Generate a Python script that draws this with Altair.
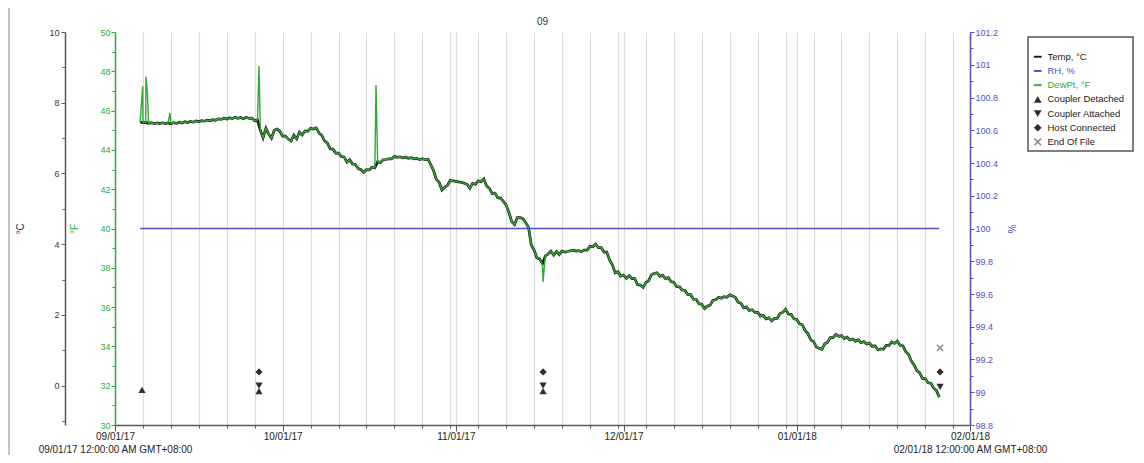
import altair as alt
import pandas as pd

FONT = "Liberation Sans"
chart_title = "09"

# Logged dew point (deg F), one reading every 12 hours starting at sample_start
sample_start = "2017-09-05 12:00"
sample_step = "12h"
dewpt_f = [
    45.42, 45.39, 45.40, 45.35, 45.39, 45.34, 45.37, 45.34, 45.38, 45.34,
    45.37, 45.33, 45.39, 45.35, 45.41, 45.37, 45.43, 45.39, 45.45, 45.41,
    45.47, 45.44, 45.49, 45.46, 45.51, 45.48, 45.54, 45.51, 45.58, 45.55,
    45.61, 45.57, 45.64, 45.59, 45.66, 45.61, 45.65, 45.59, 45.66, 45.60,
    45.62, 45.48, 45.52, 45.00, 44.62, 45.10, 44.80, 44.60, 45.00, 45.06,
    44.95, 44.70, 44.70, 44.55, 44.45, 44.75, 44.56, 44.90, 44.76, 44.96,
    44.94, 45.10, 45.06, 45.12, 44.86, 44.74, 44.46, 44.34, 44.06, 44.04,
    43.84, 43.84, 43.66, 43.64, 43.38, 43.50, 43.28, 43.26, 43.06, 42.99,
    42.86, 42.99, 42.98, 43.12, 43.08, 43.40, 43.36, 43.50, 43.51, 43.55,
    43.54, 43.67, 43.62, 43.65, 43.60, 43.63, 43.57, 43.60, 43.55, 43.57,
    43.51, 43.55, 43.50, 43.53, 43.25, 42.95, 42.50, 42.35, 41.96, 42.10,
    42.20, 42.45, 42.42, 42.40, 42.37, 42.35, 42.30, 42.25, 42.05, 42.30,
    42.25, 42.43, 42.38, 42.52, 42.16, 42.04, 41.78, 41.80, 41.57, 41.55,
    41.38, 41.20, 40.80, 40.35, 40.20, 40.55, 40.55, 40.50, 40.30, 40.05,
    39.15, 38.90, 38.50, 38.45, 38.20, 38.60, 38.70, 38.85, 38.65, 38.83,
    38.67, 38.85, 38.80, 38.83, 38.87, 38.90, 38.85, 38.87, 38.83, 38.90,
    38.90, 39.10, 39.07, 39.20, 39.03, 39.03, 38.80, 38.80, 38.40, 38.15,
    37.75, 37.80, 37.57, 37.63, 37.47, 37.60, 37.45, 37.45, 37.15, 37.12,
    37.00, 37.25, 37.35, 37.65, 37.71, 37.75, 37.57, 37.63, 37.45, 37.50,
    37.30, 37.27, 37.05, 37.03, 36.87, 36.85, 36.63, 36.63, 36.40, 36.40,
    36.17, 36.15, 35.93, 36.05, 36.10, 36.35, 36.37, 36.50, 36.45, 36.53,
    36.50, 36.63, 36.57, 36.50, 36.25, 36.20, 35.97, 36.00, 35.83, 35.87,
    35.73, 35.73, 35.55, 35.57, 35.40, 35.45, 35.30, 35.43, 35.43, 35.67,
    35.73, 35.89, 35.65, 35.63, 35.40, 35.37, 35.15, 35.10, 34.80, 34.65,
    34.33, 34.25, 33.97, 33.91, 33.85, 34.13, 34.20, 34.45, 34.45, 34.61,
    34.51, 34.55, 34.40, 34.47, 34.33, 34.38, 34.27, 34.33, 34.19, 34.25,
    34.12, 34.17, 34.00, 34.03, 33.83, 33.87, 33.85, 34.05, 34.05, 34.23,
    34.15, 34.27, 34.05, 34.02, 33.73, 33.60, 33.25, 33.05, 32.77, 32.65,
    32.37, 32.35, 32.15, 32.13, 31.87, 31.75, 31.42,
]

# Short dew point spikes (coupler events etc.)
spike_times = ["2017-09-05 23:00", "2017-09-06 13:00", "2017-09-06 19:00",
               "2017-09-10 20:00", "2017-09-26 18:30", "2017-10-17 17:00",
               "2017-11-16 14:30"]
spike_f = [47.24, 47.73, 46.96, 45.88, 48.27, 47.30, 37.28]

# Relative humidity
rh_times = ["2017-09-05 12:00", "2018-01-26 12:00"]
rh_pct = [100.0, 100.0]

# Logger events (drawn at a level on the deg C axis)
event_times = ["2017-09-05 20:00",
               "2017-09-26 18:30", "2017-09-26 18:30", "2017-09-26 18:30",
               "2017-11-16 14:30", "2017-11-16 14:30", "2017-11-16 14:30",
               "2018-01-26 15:30", "2018-01-26 15:30", "2018-01-26 15:30"]
event_names = ["Coupler Detached",
               "Host Connected", "Coupler Attached", "Coupler Detached",
               "Host Connected", "Coupler Attached", "Coupler Detached",
               "End Of File", "Host Connected", "Coupler Attached"]
event_level_c = [-0.12, 0.39, 0.0, -0.15, 0.39, 0.0, -0.15, 1.07, 0.39, -0.03]

legend_labels = ["Temp, °C", "RH, %", "DewPt, °F", "Coupler Detached",
                 "Coupler Attached", "Host Connected", "End Of File"]

GREEN = "#33a833"
BLUE = "#5050c4"
BLACK = "#1a1a1a"
GREY = "#5a5a5a"
LINE_SYM = "M-1,-0.25L1,-0.25L1,0.25L-1,0.25Z"
X_SYM = ("M-1,-0.72L-0.72,-1L0,-0.28L0.72,-1L1,-0.72L0.28,0L1,0.72L0.72,1"
         "L0,0.28L-0.72,1L-1,0.72L-0.28,0Z")
legend_colors = [BLACK, BLUE, GREEN, "#2e2e2e", "#2e2e2e", "#2e2e2e", "#8a8a8a"]
legend_shapes = [LINE_SYM, LINE_SYM, LINE_SYM, "triangle-up", "triangle-down",
                 "diamond", X_SYM]

# Axis ticks
x_domain = ["2017-09-01", "2018-02-01"]
x_tick_dates = ["2017-09-01", "2017-09-06", "2017-09-11", "2017-09-16", "2017-09-21",
                "2017-09-26", "2017-10-01", "2017-10-06", "2017-10-11", "2017-10-16",
                "2017-10-21", "2017-10-26", "2017-10-31", "2017-11-01", "2017-11-05",
                "2017-11-10", "2017-11-15", "2017-11-20", "2017-11-25", "2017-11-30",
                "2017-12-01", "2017-12-05", "2017-12-10", "2017-12-15", "2017-12-20",
                "2017-12-25", "2017-12-30", "2018-01-01", "2018-01-04", "2018-01-09",
                "2018-01-14", "2018-01-19", "2018-01-24", "2018-01-29", "2018-02-01"]
c_domain = [-10 / 9, 10]
c_ticks = [-1, 0, 1, 2, 3, 4, 5, 6, 7, 8, 9, 10]
f_domain = [30, 50]
f_ticks = [30, 31, 32, 33, 34, 35, 36, 37, 38, 39, 40, 41, 42, 43, 44, 45, 46, 47, 48, 49, 50]
rh_domain = [98.8, 101.2]
rh_ticks = [98.8, 98.9, 99.0, 99.1, 99.2, 99.3, 99.4, 99.5, 99.6, 99.7, 99.8, 99.9, 100.0,
            100.1, 100.2, 100.3, 100.4, 100.5, 100.6, 100.7, 100.8, 100.9, 101.0, 101.1, 101.2]


def dt(s):
    t = pd.Timestamp(s)
    return alt.DateTime(year=t.year, month=t.month, date=t.day,
                        hours=t.hour, minutes=t.minute)


times = pd.date_range(sample_start, periods=len(dewpt_f), freq=sample_step)
temp_df = pd.DataFrame({"time": times, "dewpt_f": dewpt_f})
dew_df = pd.concat([
    temp_df,
    pd.DataFrame({"time": pd.to_datetime(spike_times), "dewpt_f": spike_f}),
]).sort_values("time").reset_index(drop=True)
rh_df = pd.DataFrame({"time": pd.to_datetime(rh_times), "rh": rh_pct})
ev_df = pd.DataFrame({"time": pd.to_datetime(event_times), "event": event_names,
                      "level": event_level_c})
one_row = pd.DataFrame({"k": [0]})

W, H = 855, 393

x_label_expr = (
    "date(datum.value) == 1 ? "
    "(((year(datum.value) == 2017 && month(datum.value) == 8) || "
    "(year(datum.value) == 2018 && month(datum.value) == 1)) ? "
    "[timeFormat(datum.value, '%m/%d/%y'), "
    "timeFormat(datum.value, '%m/%d/%y') + ' 12:00:00 AM GMT+08:00'] : "
    "timeFormat(datum.value, '%m/%d/%y')) : ''"
)
x_axis = alt.Axis(
    values=[dt(s) for s in x_tick_dates], labelExpr=x_label_expr, title=None,
    grid=True, gridColor="#dcdcdc", gridWidth=1.2,
    domainColor=GREY, domainWidth=1.5, tickColor=GREY,
    tickSize={"condition": {"test": "date(datum.value) == 1", "value": 6}, "value": 3},
    labelFont=FONT, labelFontSize=10, labelColor="#222222", labelPadding=0,
    labelLineHeight=13, labelFlush=False, labelOverlap=False,
)
x_enc = alt.X("time:T", scale=alt.Scale(domain=[dt(x_domain[0]), dt(x_domain[1])]),
              axis=x_axis)

c_axis = alt.Axis(
    orient="left", offset=50, values=c_ticks, grid=False,
    labelExpr="datum.value % 2 == 0 ? datum.label : ''",
    tickSize={"condition": {"test": "datum.value % 2 == 0", "value": 4}, "value": 3},
    domainColor=GREY, domainWidth=1.5, tickColor=GREY, labelColor="#333333",
    labelFont=FONT, labelFontSize=9, labelPadding=2,
    title="°C", titleFont=FONT, titleFontSize=10, titleFontWeight="normal",
    titleColor="#333333", titleX=-40, titleY=H / 2,
)
f_axis = alt.Axis(
    orient="left", offset=0, values=f_ticks, grid=False,
    labelExpr="datum.value % 2 == 0 ? datum.label : ''",
    tickSize={"condition": {"test": "datum.value % 2 == 0", "value": 4}, "value": 3},
    domainColor=GREEN, domainWidth=1.5, tickColor=GREEN, labelColor=GREEN,
    labelFont=FONT, labelFontSize=9, labelPadding=1,
    title="°F", titleFont=FONT, titleFontSize=10, titleFontWeight="normal",
    titleColor=GREEN, titleX=-36, titleY=H / 2,
)
rh_axis = alt.Axis(
    orient="right", values=rh_ticks, grid=False,
    labelExpr="round(datum.value * 10) % 2 == 0 ? format(datum.value, '.1~f') : ''",
    tickSize={"condition": {"test": "round(datum.value * 10) % 2 == 0", "value": 4},
              "value": 3},
    domainColor=BLUE, domainWidth=1.5, tickColor=BLUE, labelColor=BLUE,
    labelFont=FONT, labelFontSize=9, labelPadding=1,
    title="%", titleFont=FONT, titleFontSize=10, titleFontWeight="normal",
    titleColor=BLUE, titleX=35, titleY=H / 2,
)

temp_line = alt.Chart(temp_df).transform_calculate(
    temp_c="(datum.dewpt_f - 32) * 5 / 9"
).mark_line(color=BLACK, strokeWidth=2.7).encode(
    x=x_enc,
    y=alt.Y("temp_c:Q", scale=alt.Scale(domain=c_domain, nice=False, zero=False),
            axis=c_axis),
)
dew_line = alt.Chart(dew_df).mark_line(color=GREEN, strokeWidth=1.4).encode(
    x=x_enc,
    y=alt.Y("dewpt_f:Q", scale=alt.Scale(domain=f_domain, nice=False, zero=False),
            axis=f_axis),
)
rh_line = alt.Chart(rh_df).mark_line(color=BLUE, strokeWidth=1.5).encode(
    x=x_enc,
    y=alt.Y("rh:Q", scale=alt.Scale(domain=rh_domain, nice=False, zero=False),
            axis=rh_axis),
)

label_color = alt.ExprRef(expr=(
    f"datum.label == 'RH, %' ? '{BLUE}' : "
    f"datum.label == 'DewPt, °F' ? '{GREEN}' : '#222222'"
))
leg = alt.Legend(
    title=None, orient="none", legendX=918, legendY=20, direction="vertical",
    padding=0, rowPadding=3.2,
    labelFont=FONT, labelFontSize=9.5, labelColor=label_color, labelOffset=5,
    symbolSize=60, symbolOpacity=1, symbolStrokeWidth=0,
)
markers = alt.Chart(ev_df).mark_point(filled=True, opacity=1, size=52).encode(
    x=x_enc,
    y=alt.Y("level:Q", scale=alt.Scale(domain=c_domain, nice=False, zero=False),
            axis=None),
    color=alt.Color("event:N", scale=alt.Scale(domain=legend_labels, range=legend_colors),
                    legend=leg),
    shape=alt.Shape("event:N", scale=alt.Scale(domain=legend_labels, range=legend_shapes),
                    legend=leg),
)

# Decorations: page frame line, legend box, chart title
frame = alt.Chart(one_row).mark_rule(color="#c4c4c4", strokeWidth=2).encode(
    x=alt.value(-106), y=alt.value(-24), y2=alt.value(H + 30))
legend_box = alt.Chart(one_row).mark_rect(
    fill="white", fillOpacity=0, stroke="#555555", strokeWidth=1.5
).encode(x=alt.value(913), x2=alt.value(1018), y=alt.value(5), y2=alt.value(119))
title_text = alt.Chart(one_row).mark_text(
    font=FONT, fontSize=10, color="#333333", align="center", baseline="middle"
).encode(x=alt.value(W / 2), y=alt.value(-10), text=alt.value(chart_title))

chart = alt.layer(
    temp_line, dew_line, rh_line, markers, frame, legend_box, title_text
).resolve_scale(
    y="independent"
).properties(
    width=W, height=H,
    autosize=alt.AutoSizeParams(type="none"),
    padding={"left": 107, "top": 24, "right": 164, "bottom": 30},
).configure_view(stroke=None)

chart.save("out.html", embed_options={"renderer": "svg", "actions": False})
